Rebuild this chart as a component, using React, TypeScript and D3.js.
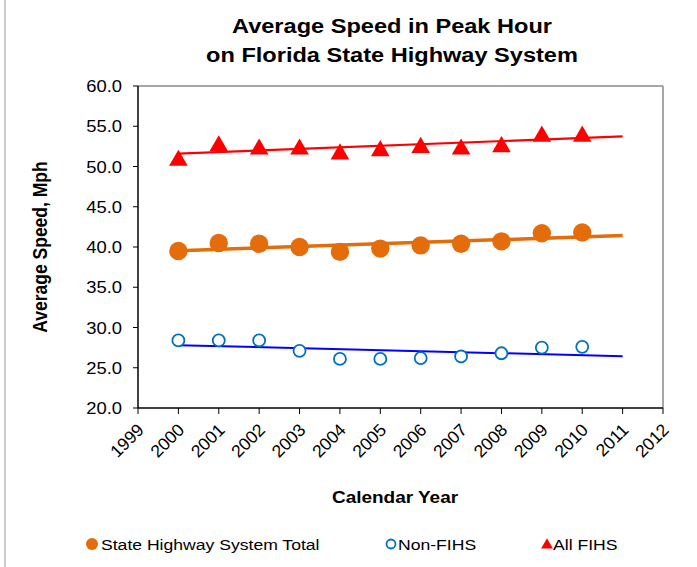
import React from "react";
import * as d3 from "d3";

const years = [2000, 2001, 2002, 2003, 2004, 2005, 2006, 2007, 2008, 2009, 2010];
const shsTotal = [39.5, 40.5, 40.4, 40.0, 39.4, 39.8, 40.2, 40.4, 40.7, 41.7, 41.8];
const nonFihs = [28.4, 28.4, 28.4, 27.1, 26.1, 26.1, 26.2, 26.4, 26.8, 27.5, 27.6];
const allFihs = [51.0, 52.8, 52.4, 52.4, 51.8, 52.2, 52.6, 52.4, 52.7, 54.0, 54.0];
const xTicks = [1999, 2000, 2001, 2002, 2003, 2004, 2005, 2006, 2007, 2008, 2009, 2010, 2011, 2012];
const yTicks = [20, 25, 30, 35, 40, 45, 50, 55, 60];
const trendEndYear = 2011;
const titleLines = ["Average Speed in Peak Hour", "on Florida State Highway System"];

const W = 697, H = 567;
const plot = { left: 138, right: 663, top: 86, bottom: 408 };
const FONT = "'Liberation Sans', Arial, sans-serif";
const SX = 1.15;

function regression(xs: number[], ys: number[]) {
  const mx = d3.mean(xs)!;
  const my = d3.mean(ys)!;
  let num = 0, den = 0;
  xs.forEach((x, i) => { num += (x - mx) * (ys[i] - my); den += (x - mx) ** 2; });
  const b = num / den;
  return (x: number) => my + b * (x - mx);
}

export default function App() {
  const x = d3.scaleLinear().domain([1999, 2012]).range([plot.left, plot.right]);
  const y = d3.scaleLinear().domain([20, 60]).range([plot.bottom, plot.top]);

  const series = [
    { name: "State Highway System Total", values: shsTotal, color: "#E46C0A", lineW: 3.5, kind: "dot" },
    { name: "Non-FIHS", values: nonFihs, color: "#0070C0", lineColor: "#0000FF", lineW: 2, kind: "ring" },
    { name: "All FIHS", values: allFihs, color: "#FF0000", lineW: 2.2, kind: "tri" },
  ];

  const line = d3.line<[number, number]>().x((d) => x(d[0])).y((d) => y(d[1]));
  const tri = d3.symbol().type(d3.symbolTriangle).size(150);
  const triSmall = d3.symbol().type(d3.symbolTriangle).size(60);

  const marker = (kind: string, color: string, cx: number, cy: number, small = false, key?: any) => {
    if (kind === "dot")
      return <circle key={key} cx={cx} cy={cy} r={small ? 6 : 9.2} fill={color} />;
    if (kind === "ring")
      return <circle key={key} cx={cx} cy={cy} r={small ? 4.5 : 6} fill="#fff" stroke={color} strokeWidth={1.8} />;
    return (
      <path key={key} d={(small ? triSmall : tri)()!} transform={`translate(${cx},${cy + (small ? 1 : 2)})`} fill={color} />
    );
  };

  const legendItems = [
    { s: series[0], mx: 92, tx: 101 },
    { s: series[1], mx: 391, tx: 398 },
    { s: series[2], mx: 547, tx: 553 },
  ];

  return (
    <svg width={W} height={H} style={{ position: "absolute", left: 0, top: 0, background: "#fff" }} fontFamily={FONT}>
      <rect x={0} y={0} width={W} height={H} fill="#fff" />
      <line x1={5} x2={5} y1={0} y2={H} stroke="#999" strokeWidth={1} />

      {/* title */}
      {titleLines.map((t, i) => (
        <text key={i} transform={`translate(392,${33 + i * 28.5}) scale(${SX},1)`} textAnchor="middle" fontSize={20.5} fontWeight="bold" fill="#000">
          {t}
        </text>
      ))}

      {/* plot border */}
      <line x1={plot.left} x2={plot.right} y1={plot.top} y2={plot.top} stroke="#888" strokeWidth={1.5} />
      <line x1={plot.right} x2={plot.right} y1={plot.top} y2={plot.bottom} stroke="#888" strokeWidth={1.5} />

      {/* y axis */}
      {yTicks.map((t) => (
        <g key={t}>
          <line x1={plot.left - 5} x2={plot.left} y1={y(t)} y2={y(t)} stroke="#000" strokeWidth={1} />
          <text transform={`translate(122,${y(t) + 6}) scale(${SX},1)`} textAnchor="end" fontSize={16} fill="#000">
            {d3.format(".1f")(t)}
          </text>
        </g>
      ))}
      <line x1={plot.left} x2={plot.left} y1={plot.top} y2={plot.bottom} stroke="#000" strokeWidth={1.5} />

      {/* x axis */}
      {xTicks.map((t) => (
        <g key={t}>
          <line x1={x(t)} x2={x(t)} y1={plot.bottom} y2={plot.bottom + 6} stroke="#000" strokeWidth={1} />
          <text transform={`translate(${x(t) + 7},${plot.bottom + 23}) rotate(-45)`} textAnchor="end" fontSize={17.5} fill="#000">
            {t}
          </text>
        </g>
      ))}
      <line x1={plot.left} x2={plot.right} y1={plot.bottom} y2={plot.bottom} stroke="#000" strokeWidth={1.5} />

      {/* axis titles */}
      <text transform={`translate(47,247) rotate(-90) scale(1,${SX})`} textAnchor="middle" fontSize={17.5} fontWeight="bold" fill="#000">
        Average Speed, Mph
      </text>
      <text transform={`translate(395,503) scale(${SX},1)`} textAnchor="middle" fontSize={16.5} fontWeight="bold" fill="#000">
        Calendar Year
      </text>

      {/* trend lines */}
      {series.map((s) => {
        const f = regression(years, s.values);
        const pts: [number, number][] = [[years[0], f(years[0])], [trendEndYear, f(trendEndYear)]];
        return <path key={s.name + "t"} d={line(pts)!} fill="none" stroke={s.lineColor ?? s.color} strokeWidth={s.lineW} />;
      })}

      {/* markers */}
      {series.map((s) => (
        <g key={s.name}>
          {s.values.map((v, i) => marker(s.kind, s.color, x(years[i]), y(v), false, i))}
        </g>
      ))}

      {/* legend */}
      {legendItems.map(({ s, mx, tx }) => (
        <g key={s.name + "l"}>
          {marker(s.kind, s.color, mx, 544, true)}
          <text transform={`translate(${tx},549.5) scale(${SX},1)`} fontSize={15.3} fill="#000">
            {s.name}
          </text>
        </g>
      ))}
    </svg>
  );
}
